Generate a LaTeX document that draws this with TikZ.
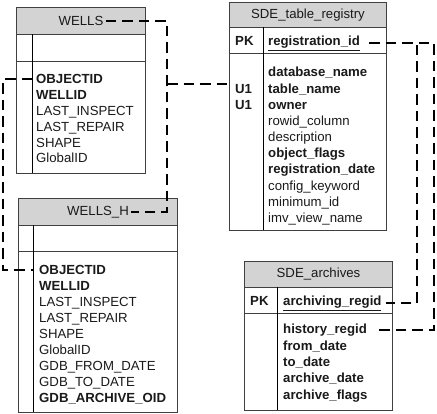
\documentclass[tikz,border=0pt]{standalone}
\usepackage{fontspec}
\setmainfont{Liberation Sans}
\usetikzlibrary{calc}
\definecolor{hdr}{HTML}{D3D3D3}
\definecolor{bord}{HTML}{404040}
\definecolor{txt}{HTML}{1A1A1A}
\tikzset{
  tbl/.style={draw=bord, fill=white, line width=1pt, anchor=north west, inner sep=0pt},
  hd/.style={draw=bord, fill=hdr, line width=1pt, anchor=north west, inner sep=0pt},
  fld/.style={anchor=base west, inner sep=0pt, text=txt, font=\fontsize{13.2}{16}\selectfont},
  ttl/.style={inner sep=2pt, text=txt, font=\fontsize{13.2}{16}\selectfont},
  sep/.style={draw=bord, line width=1pt},
  div/.style={draw=black, line width=1pt},
  conn/.style={draw=black, line width=2pt, dash pattern=on 10.5pt off 6pt}
}
\begin{document}
\begin{tikzpicture}[x=1pt,y=-1pt]
\useasboundingbox (0,0) rectangle (437,413);

% ---------- WELLS ----------
\node[tbl, minimum width=129pt, minimum height=166pt] (wells) at (16,7) {};
\node[hd, minimum width=129pt, minimum height=27pt] (wellshd) at (wells.north west) {};
\node[ttl] (wt) at (wellshd.center) {WELLS};
\draw[sep] (16,61) -- (145,61);
\draw[div] (32,34) -- (32,173);
\node[fld] (wobj) at (36,83.6) {\bfseries OBJECTID};
\foreach \t/\y in {{\bfseries WELLID}/95,LAST\_INSPECT/111,LAST\_REPAIR/127,SHAPE/143,GlobalID/158}
  \node[fld] at (36,\y+4.6) {\t};

% ---------- WELLS_H ----------
\node[tbl, minimum width=159pt, minimum height=214pt] (wellsh) at (18,198) {};
\node[hd, minimum width=159pt, minimum height=27pt] (wellshhd) at (wellsh.north west) {};
\node[ttl] (wht) at (wellshhd.center) {WELLS\_H};
\draw[sep] (18,251) -- (177,251);
\draw[div] (33,225) -- (33,412);
\node[fld] (whobj) at (39,274.6) {\bfseries OBJECTID};
\foreach \t/\y in {{\bfseries WELLID}/286,LAST\_INSPECT/302,LAST\_REPAIR/318,SHAPE/334,GlobalID/350,GDB\_FROM\_DATE/366,GDB\_TO\_DATE/382,{\bfseries GDB\_ARCHIVE\_OID}/398}
  \node[fld] at (39,\y+4.6) {\t};

% ---------- SDE_table_registry ----------
\node[tbl, minimum width=157pt, minimum height=228pt] (reg) at (229,2) {};
\node[hd, minimum width=157pt, minimum height=25pt] (reghd) at (reg.north west) {};
\node[ttl] (rt) at (reghd.center) {SDE\_table\_registry};
\draw[sep] (229,53) -- (386,53);
\draw[div] (263,27) -- (263,230);
\node[fld] (rpk) at (235,45.6) {\bfseries PK};
\node[fld] (rid) at (268,45.6) {\bfseries\underline{registration\_id}};
\node[fld] (ru1) at (235,93.6) {\bfseries U1};
\node[fld] (ru2) at (235,109.6) {\bfseries U1};
\foreach \t/\y in {{\bfseries database\_name}/72,{\bfseries table\_name}/89,{\bfseries owner}/105,rowid\_column/121,description/137,{\bfseries object\_flags}/153,{\bfseries registration\_date}/169,config\_keyword/186,minimum\_id/202,imv\_view\_name/218}
  \node[fld] at (268,\y+4.6) {\t};

% ---------- SDE_archives ----------
\node[tbl, minimum width=148pt, minimum height=149pt] (arch) at (244,261) {};
\node[hd, minimum width=148pt, minimum height=26pt] (archhd) at (arch.north west) {};
\node[ttl] (at) at (archhd.center) {SDE\_archives};
\draw[sep] (244,313) -- (392,313);
\draw[div] (277,287) -- (277,410);
\node[fld] (apk) at (250,305.6) {\bfseries PK};
\node[fld] (arc) at (283,305.6) {\bfseries\underline{archiving\_regid}};
\node[fld] (hr) at (283,333.6) {\bfseries history\_regid};
\foreach \t/\y in {from\_date/346,to\_date/362,archive\_date/378,archive\_flags/395}
  \node[fld] at (283,\y+4.6) {\bfseries\t};

% ---------- connectors ----------
\coordinate (jx) at (167,0);
\coordinate (j1) at (167,84);
\coordinate (lx) at (3,0);
\coordinate (wdx) at (32,0);
\coordinate (whdx) at (33,0);
\coordinate (ax) at (417,0);
\coordinate (hx) at (434,0);

\draw[conn] (wt.east) -| (jx |- wht.east) -- (wht.east);
\draw[conn] (j1) -- (j1 -| reg.west);
\draw[conn] (wobj.west -| wdx) -| (lx |- whobj.west) -- (whobj.west -| whdx);
\draw[conn] ($(rid.east)+(9,0)$) -| (ax |- arc.east) -- ($(arc.east)+(4,0)$);
\draw[conn] ($(rid.east)+(9,0)$) -| (hx |- hr.east) -- ($(hr.east)+(8,0)$);
\end{tikzpicture}
\end{document}
